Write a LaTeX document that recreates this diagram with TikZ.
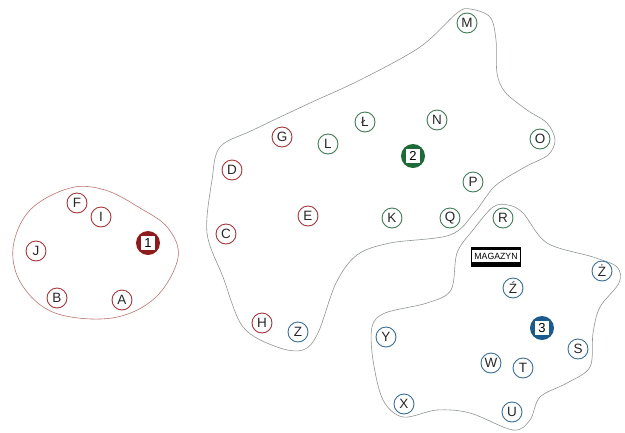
\documentclass[tikz,border=0pt]{standalone}
\usepackage{fontspec}
\setmainfont{Liberation Sans}
\definecolor{cred}{HTML}{A33636}
\definecolor{cgreen}{HTML}{3E7A55}
\definecolor{cblue}{HTML}{3A6E98}
\definecolor{fred}{HTML}{8E1C1C}
\definecolor{fgreen}{HTML}{1E6A38}
\definecolor{fblue}{HTML}{1B5A8C}
\definecolor{lred}{HTML}{C07272}
\definecolor{lgray}{HTML}{8E9690}
\begin{document}
\begin{tikzpicture}[x=1pt,y=-1pt,
  pt/.style={circle,draw=#1,line width=0.9pt,minimum size=20pt,inner sep=0pt,font=\fontsize{13.5}{14}\selectfont,text=black!85},
  num/.style={circle,fill=#1,minimum size=24pt,inner sep=0pt},
  numin/.style={fill=white,minimum size=14pt,inner sep=0pt,font=\fontsize{13}{13}\selectfont},
  region/.style={draw=#1,line width=0.6pt}]
\useasboundingbox (0,0) rectangle (625,432);
% regions
\draw[region=lred] plot[smooth cycle,tension=0.6] coordinates {(13,248) (30,210) (70,188) (105,190) (140,208) (168,228) (178,258) (155,298) (112,318) (55,313) (22,285)};
\draw[region=lgray] plot[smooth cycle,tension=0.55] coordinates {(220,147) (253,130) (310,103) (360,80) (420,47) (457,13) (470,9) (490,17) (496,40) (497,73) (505,92) (527,110) (547,123) (555,140) (548,155) (525,167) (495,186) (475,212) (450,235) (390,243) (357,255) (336,283) (318,333) (303,350) (277,347) (243,327) (223,277) (207,233) (212,180)};
\draw[region=lgray] plot[smooth cycle,tension=0.55] coordinates {(493,207) (508,205) (523,213) (547,243) (593,257) (617,267) (619,283) (600,307) (593,333) (590,367) (567,383) (540,397) (530,420) (513,430) (470,413) (437,410) (403,417) (383,400) (373,360) (372,327) (385,313) (427,303) (451,290) (457,253) (473,230)};
% region 1
\node[pt=cred] (F) at (77,203) {F};
\node[pt=cred] (I) at (101,217) {I};
\node[pt=cred] (J) at (36,251) {J};
\node[pt=cred] (B) at (57,298) {B};
\node[pt=cred] (A) at (122,300) {A};
\node[num=fred] (n1) at (148,243) {};
\node[numin] (n1t) at (n1) {1};
% region 2
\node[pt=cred] (G) at (282,137) {G};
\node[pt=cred] (D) at (232,170) {D};
\node[pt=cred] (C) at (226,234) {C};
\node[pt=cred] (E) at (308,216) {E};
\node[pt=cred] (H) at (262,323) {H};
\node[pt=cgreen] (L) at (328,144) {L};
\node[pt=cgreen] (LL) at (365,122) {Ł};
\node[pt=cgreen] (N) at (437,120) {N};
\node[pt=cgreen] (M) at (467,23) {M};
\node[pt=cgreen] (O) at (540,139) {O};
\node[pt=cgreen] (P) at (473,182) {P};
\node[pt=cgreen] (K) at (392,218) {K};
\node[pt=cgreen] (Q) at (450,218) {Q};
\node[pt=cgreen] (R) at (503,218) {R};
\node[pt=cblue] (Z) at (298,332) {Z};
\node[num=fgreen] (n2) at (413,156) {};
\node[numin] (n2t) at (n2) {2};
% region 3
\node[fill=white,draw=black,line width=0.5pt,minimum width=49pt,minimum height=19pt,inner sep=0pt] (mag) at (496,256.5) {};
\fill[black] (mag.north west) rectangle ([yshift=-3.5pt]mag.north east);
\fill[black] (mag.south west) rectangle ([yshift=4pt]mag.south east);
\node[inner sep=0pt,font=\fontsize{9}{9}\selectfont,xscale=0.97] (magt) at (mag) {MAGAZYN};
\node[pt=cblue] (ZA) at (513,288) {Ź};
\node[pt=cblue] (ZB) at (602,271) {Ż};
\node[pt=cblue] (S) at (578,349) {S};
\node[pt=cblue] (Y) at (386,337) {Y};
\node[pt=cblue] (W) at (491,363) {W};
\node[pt=cblue] (T) at (523,368) {T};
\node[pt=cblue] (X) at (404,404) {X};
\node[pt=cblue] (U) at (512,412) {U};
\node[num=fblue] (n3) at (542,328) {};
\node[numin] (n3t) at (n3) {3};
\end{tikzpicture}
\end{document}
